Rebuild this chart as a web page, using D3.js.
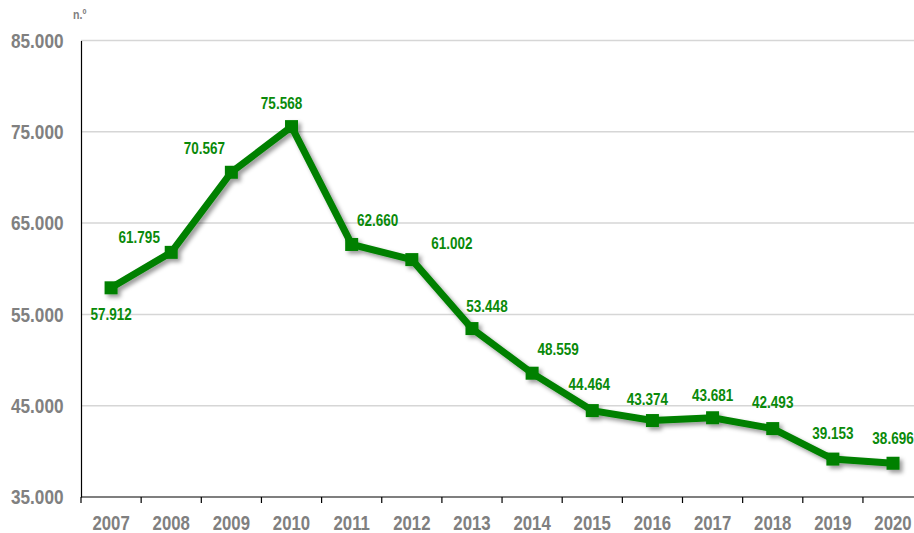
<!DOCTYPE html>
<html>
<head>
<meta charset="utf-8">
<script src="https://cdn.jsdelivr.net/npm/d3@7"></script>
<style>
  html, body { margin: 0; padding: 0; background: #ffffff; }
  svg { display: block; }
  svg text { font-family: "Liberation Sans", Arial, sans-serif; font-weight: bold; }
</style>
</head>
<body>
<svg id="chart" width="914" height="533"></svg>
<script>
// Yearly totals (n.º)
const years = ["2007","2008","2009","2010","2011","2012","2013","2014","2015","2016","2017","2018","2019","2020"];
const values = [57912, 61795, 70567, 75568, 62660, 61002, 53448, 48559, 44464, 43374, 43681, 42493, 39153, 38696];
const yTicks = [35000, 45000, 55000, 65000, 75000, 85000];

// Label placement relative to each marker (dx, dy in px)
const labelOffsets = [[0, 26], [-32, -15], [-27, -24], [-10, -23], [26, -24], [40, -16], [15, -22],
                      [26, -24], [-3, -26], [-5, -21], [0, -23], [0, -26], [0, -26], [0, -25]];

const fmt = v => d3.format(",")(v).replace(/,/g, ".");
const NARROW = 0.82; // horizontal squeeze giving a condensed face

const svg = d3.select("#chart");
const W = 914;
const margin = { left: 81, top: 40.5, bottom: 497 };

const x = d3.scaleBand().domain(years).range([margin.left, margin.left + 60.15 * years.length]);
const y = d3.scaleLinear().domain([35000, 85000]).range([margin.bottom, margin.top]);

// Draw condensed text anchored at (px, py)
function narrowText(sel, px, py) {
  return sel.attr("x", 0).attr("y", 0)
    .attr("transform", (d, i) => `translate(${px(d, i)},${py(d, i)}) scale(${NARROW},1)`);
}

const defs = svg.append("defs");
const shadow = defs.append("filter").attr("id", "shadow")
  .attr("x", "-10%").attr("y", "-10%").attr("width", "130%").attr("height", "130%");
shadow.append("feDropShadow").attr("dx", 3).attr("dy", 3).attr("stdDeviation", 2)
  .attr("flood-color", "#000").attr("flood-opacity", 0.4);

// Horizontal gridlines
svg.append("g").selectAll("line").data(yTicks.slice(1)).join("line")
  .attr("x1", margin.left).attr("x2", W)
  .attr("y1", d => y(d)).attr("y2", d => y(d))
  .attr("stroke", "#d6d6d6").attr("stroke-width", 1.5);

// Y axis
const yAxis = svg.append("g").attr("transform", `translate(${margin.left},0)`)
  .call(d3.axisLeft(y).tickValues(yTicks).tickFormat(fmt).tickSize(0).tickPadding(17.5));
yAxis.select(".domain").attr("stroke", "#000").attr("stroke-width", 1.2);
yAxis.selectAll(".tick text")
  .attr("font-size", 21).attr("fill", "#808080").attr("font-family", null)
  .attr("x", -17.5 / NARROW).attr("transform", `scale(${NARROW},1)`);

// X axis with ticks between categories
const xAxisG = svg.append("g").attr("transform", `translate(0,${margin.bottom})`);
xAxisG.append("line").attr("x1", margin.left).attr("x2", W).attr("y1", 0).attr("y2", 0)
  .attr("stroke", "#000").attr("stroke-width", 1.2);
xAxisG.selectAll("line.tick").data(years).join("line").attr("class", "tick")
  .attr("x1", d => x(d)).attr("x2", d => x(d)).attr("y1", 0).attr("y2", 6)
  .attr("stroke", "#000").attr("stroke-width", 1.2);
xAxisG.selectAll("text").data(years).join("text")
  .call(narrowText, d => x(d) + x.bandwidth() / 2, () => 25.5)
  .attr("dy", "0.35em").attr("text-anchor", "middle")
  .attr("font-size", 20.5).attr("fill", "#808080")
  .text(d => d);

// Unit label
svg.append("text").datum(0)
  .call(narrowText, () => 73, () => 19)
  .attr("font-size", 13).attr("fill", "#808080")
  .text("n.º");

const pts = years.map((yr, i) => ({ yr, v: values[i], cx: x(yr) + x.bandwidth() / 2, cy: y(values[i]), off: labelOffsets[i] }));

// Series line and markers
const series = svg.append("g").attr("filter", "url(#shadow)");
series.append("path").datum(pts)
  .attr("d", d3.line().x(d => d.cx).y(d => d.cy))
  .attr("fill", "none").attr("stroke", "#008000").attr("stroke-width", 7)
  .attr("stroke-linejoin", "miter");
series.selectAll("rect").data(pts).join("rect")
  .attr("x", d => d.cx - 6.5).attr("y", d => d.cy - 6.5)
  .attr("width", 13).attr("height", 13).attr("fill", "#008000");

// Value labels
svg.append("g").selectAll("text").data(pts).join("text")
  .call(narrowText, d => d.cx + d.off[0], d => d.cy + d.off[1])
  .attr("dy", "0.35em").attr("text-anchor", "middle")
  .attr("font-size", 16.5).attr("fill", "#0a8a0a")
  .text(d => fmt(d.v));
</script>
</body>
</html>
